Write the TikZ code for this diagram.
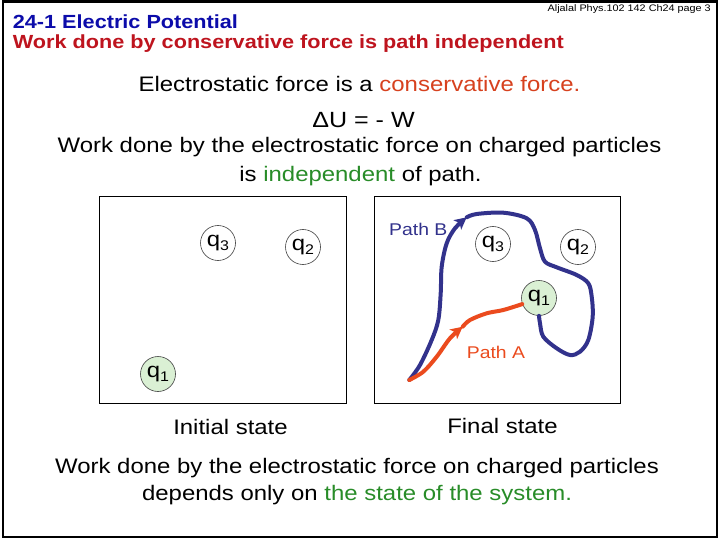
\documentclass[tikz,border=0pt]{standalone}
\usepackage{fontspec}
\setmainfont{Liberation Sans}[FakeStretch=1.14]
\usetikzlibrary{arrows.meta}
\definecolor{titleblue}{RGB}{12,12,170}
\definecolor{titlered}{RGB}{190,20,30}
\definecolor{consred}{RGB}{215,65,30}
\definecolor{indgreen}{RGB}{40,140,40}
\definecolor{pathblue}{RGB}{50,50,140}
\definecolor{pathred}{RGB}{235,75,30}
\definecolor{qfill}{RGB}{218,240,212}
\newcommand{\qlab}[1]{{\fontsize{21}{21}\selectfont q\raisebox{-4.5pt}{\fontsize{14}{14}\selectfont #1}}}
\begin{document}
\begin{tikzpicture}[x=1pt,y=-1pt,
  titletxt/.style={anchor=base west, inner sep=0pt, font=\fontsize{19}{22}\selectfont\bfseries},
  bodytxt/.style={anchor=base, inner sep=0pt, font=\fontsize{21}{25}\selectfont},
  pathtxt/.style={anchor=base west, inner sep=0pt, font=\fontsize{17}{20}\selectfont},
  charge/.style={circle, draw=black!75, line width=0.6pt, minimum size=35pt, inner sep=0pt},
  chargeone/.style={charge, fill=qfill},
  statebox/.style={draw=black, line width=0.9pt},
  pathb/.style={pathblue, line width=4pt, line cap=round, line join=round},
  patha/.style={pathred, line width=4pt, line cap=round, line join=round},
  tip/.style={-{Stealth[length=12pt,width=12pt,inset=3pt]}}
]
\useasboundingbox (0,0) rectangle (720,540);
\fill[white] (0,0) rectangle (720,540);
\draw[line width=2.5pt] (3,1.5) rectangle (717,537);

% header
\node[anchor=base east, inner sep=0pt, font=\fontsize{9.5}{11}\selectfont] (hdr) at (711,12) {Aljalal Phys.102 142 Ch24 page 3};
\node[titletxt, text=titleblue] (t1) at (12.7,28.5) {24-1 Electric Potential};
\node[titletxt, text=titlered] (t2) at (12.7,49) {Work done by conservative force is path independent};

% body text
\node[bodytxt] (l1) at (359.5,91.5) {Electrostatic force is a {\color{consred}conservative force.}};
\node[anchor=base, inner sep=0pt, font=\fontsize{22}{26}\selectfont] (l2) at (363.5,128) {ΔU = - W};
\node[bodytxt] (l3) at (359.5,153) {Work done by the electrostatic force on charged particles};
\node[bodytxt] (l4) at (360.5,182) {is {\color{indgreen}independent} of path.};

% boxes
\draw[statebox] (99.3,196.7) rectangle (346,403);
\draw[statebox] (374.7,196.5) rectangle (620.7,403);

% initial state charges
\node[charge] (aq3) at (218,243) {\qlab{3}};
\node[charge] (aq2) at (303,247) {\qlab{2}};
\node[chargeone] (aq1) at (158,374) {\qlab{1}};

% final state charges
\node[charge] (bq3) at (493,244) {\qlab{3}};
\node[charge] (bq2) at (578,247) {\qlab{2}};
\node[chargeone] (bq1) at (539,298) {\qlab{1}};

% paths
\coordinate (S) at (409.3,380);
\coordinate (AB) at (466.7,217.3);
\coordinate (AA) at (462.7,326.7);
\draw[pathb, tip] plot[smooth, tension=0.55] coordinates {(S) (420,365) (431.7,340) (438.3,320) (440.7,293.3) (441.7,266.7) (446.7,243.3) (455,228.3) (AB)};
\draw[pathb] plot[smooth, tension=0.55] coordinates {(AB) (476.7,214) (503.3,212.7) (526.7,218.3) (535,230) (540,248.3) (545,261.7) (556.7,267.3) (576.7,275) (588.3,283.3) (591.7,296.7) (592.7,316.7) (588.3,340) (580,351.7) (570,355) (556.7,348.3) (543.3,336.7) (540,323.3) (bq1.south)};
\draw[patha, tip] plot[smooth, tension=0.55] coordinates {(S) (423.3,371.7) (436.7,356.7) (450,338.3) (AA)};
\draw[patha] plot[smooth, tension=0.55] coordinates {(AA) (470,320) (486.7,313.3) (503.3,310) (bq1.200)};

\node[pathtxt, text=pathblue] (pb) at (389,235.7) {Path B};
\node[pathtxt, text=pathred] (pa) at (466.7,358) {Path A};

% state labels
\node[bodytxt] (ini) at (230.5,434) {Initial state};
\node[bodytxt] (fin) at (502.5,433.5) {Final state};

\node[bodytxt] (l5) at (357,473) {Work done by the electrostatic force on charged particles};
\node[bodytxt] (l6) at (357,500) {depends only on {\color{indgreen}the state of the system.}};
\end{tikzpicture}
\end{document}
